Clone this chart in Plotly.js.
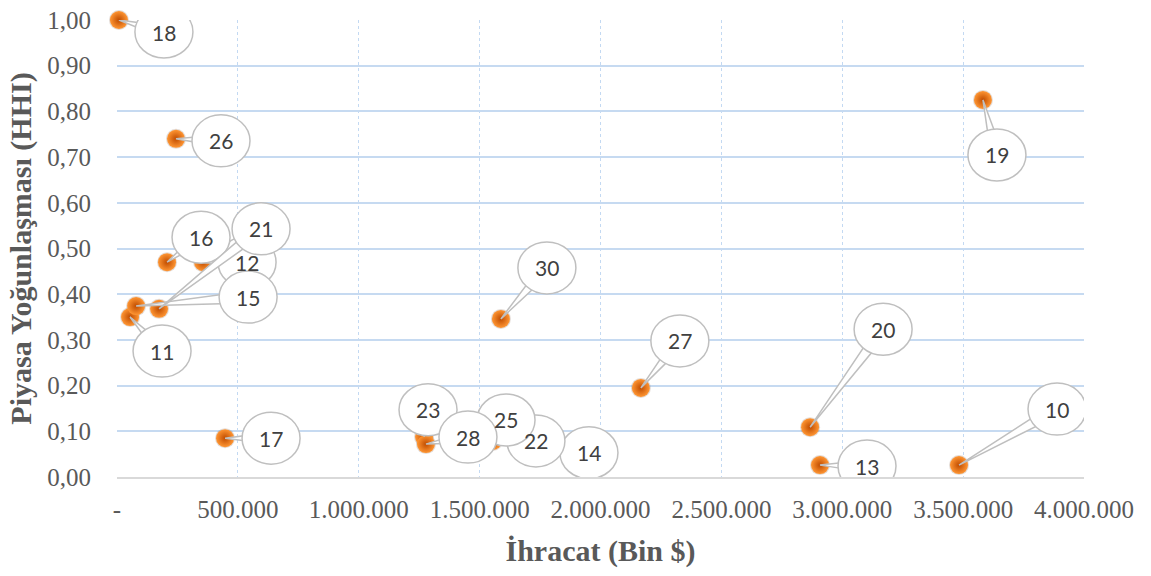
<!DOCTYPE html>
<html>
<head>
<meta charset="utf-8">
<script src="https://cdn.plot.ly/plotly-3.0.1.min.js"></script>
<style>
  html, body { margin: 0; padding: 0; background: #ffffff; }
  #chart { width: 1151px; height: 576px; }
</style>
</head>
<body>
<div id="chart"></div>
<script>
// ---- Data ----
const pointLabels = ['10', '11', '12', '13', '14', '15', '16', '17', '18', '19', '20', '21', '22', '23', '25', '26', '27', '28', '30'];
const exportValues = [3483000, 54000, 356000, 2908000, 1762000, 79000, 207000, 447000, 8000, 3582000, 2867000, 174000, 1555000, 1270000, 1481000, 244000, 2167000, 1278000, 1588000];
const hhiValues = [0.026, 0.350, 0.470, 0.026, 0.053, 0.374, 0.470, 0.085, 1.000, 0.825, 0.109, 0.368, 0.079, 0.088, 0.092, 0.740, 0.195, 0.072, 0.346];

const xTickVals = [0, 500000, 1000000, 1500000, 2000000, 2500000, 3000000, 3500000, 4000000];
const xTickText = ['-', '500.000', '1.000.000', '1.500.000', '2.000.000', '2.500.000', '3.000.000', '3.500.000', '4.000.000'];
const yTickVals = [0, 0.1, 0.2, 0.3, 0.4, 0.5, 0.6, 0.7, 0.8, 0.9, 1.0];

const xTitle = 'İhracat (Bin $)';
const yTitle = 'Piyasa Yoğunlaşması (HHI)';

// ---- Callout placement (pixel offsets of each bubble from its point; y up) ----
const calloutOffsets = {
  '10': [98, 56], '11': [32, -34], '12': [44, 0], '13': [47, -1], '14': [46, 0],
  '15': [112, 9], '16': [34, 25], '17': [46, 0], '18': [45, -12], '19': [14, -55],
  '20': [73, 98], '21': [102, 80], '22': [43, 0], '23': [4, 27], '25': [31, 15],
  '26': [45, -2], '27': [39, 47], '28': [42, 7], '30': [46, 51]
};

const RX = 29, RY = 26, TAIL = 6;
const shapes = [];
const annotations = [];
pointLabels.forEach(function (lab, i) {
  const off = calloutOffsets[lab];
  const dx = off[0], dy = off[1];
  const len = Math.hypot(dx, dy) || 1;
  const px = -dy / len * TAIL, py = dx / len * TAIL;
  const base = {
    xref: 'x', yref: 'y', xsizemode: 'pixel', ysizemode: 'pixel',
    xanchor: exportValues[i], yanchor: hhiValues[i], layer: 'above'
  };
  shapes.push(Object.assign({}, base, {
    type: 'path',
    path: 'M 0 0 L ' + (dx + px).toFixed(1) + ' ' + (dy + py).toFixed(1) +
          ' L ' + (dx - px).toFixed(1) + ' ' + (dy - py).toFixed(1) + ' Z',
    fillcolor: '#ffffff',
    line: { color: '#bfbfbf', width: 1.5 }
  }));
  shapes.push(Object.assign({}, base, {
    type: 'circle',
    x0: dx - RX, x1: dx + RX, y0: dy - RY, y1: dy + RY,
    fillcolor: '#ffffff',
    line: { color: '#bfbfbf', width: 1.5 }
  }));
  annotations.push({
    xref: 'x', yref: 'y', x: exportValues[i], y: hhiValues[i],
    xshift: dx, yshift: dy, showarrow: false,
    text: lab, xanchor: 'center', yanchor: 'middle',
    font: { family: 'Lato, "Open Sans", sans-serif', size: 21, color: '#404040' }
  });
});

const traces = [
  {
    type: 'scatter', mode: 'markers',
    x: exportValues, y: hhiValues,
    cliponaxis: false, hoverinfo: 'skip',
    marker: { size: 20, color: 'rgba(90,40,0,0.16)', line: { width: 0 } }
  },
  {
    type: 'scatter', mode: 'markers',
    x: exportValues, y: hhiValues, text: pointLabels,
    cliponaxis: false, hoverinfo: 'skip',
    marker: {
      size: 18, color: '#ff9633',
      gradient: { type: 'radial', color: '#c04c00' },
      line: { width: 0 }
    }
  }
];

const tickFont = { family: '"Liberation Serif", "Times New Roman", serif', size: 25, color: '#595959' };
const titleFont = { family: '"Liberation Serif", "Times New Roman", serif', size: 30, color: '#595959', weight: 'bold' };

const layout = {
  width: 1151, height: 576,
  margin: { l: 117, r: 67, t: 20, b: 99 },
  paper_bgcolor: '#ffffff', plot_bgcolor: '#ffffff',
  separators: ',.',
  showlegend: false,
  xaxis: {
    range: [0, 4000000],
    tickvals: xTickVals, ticktext: xTickText,
    tickfont: tickFont,
    ticks: 'outside', ticklen: 9, tickcolor: 'rgba(0,0,0,0)',
    showgrid: true, gridcolor: '#c3d9f2', gridwidth: 1, griddash: 'dot',
    zeroline: false,
    showline: true, linecolor: '#d9d9d9', linewidth: 2,
    title: { text: xTitle, font: titleFont, standoff: 18 },
    fixedrange: true
  },
  yaxis: {
    range: [0, 1.0],
    tickvals: yTickVals, tickformat: '.2f',
    tickfont: tickFont,
    ticks: 'outside', ticklen: 20, tickcolor: 'rgba(0,0,0,0)',
    showgrid: true, gridcolor: '#c6daf1', gridwidth: 2,
    zeroline: false, showline: false,
    title: { text: yTitle, font: titleFont, standoff: 6 },
    fixedrange: true
  },
  shapes: shapes,
  annotations: annotations
};

Plotly.newPlot('chart', traces, layout, { displayModeBar: false, staticPlot: true });
</script>
</body>
</html>
